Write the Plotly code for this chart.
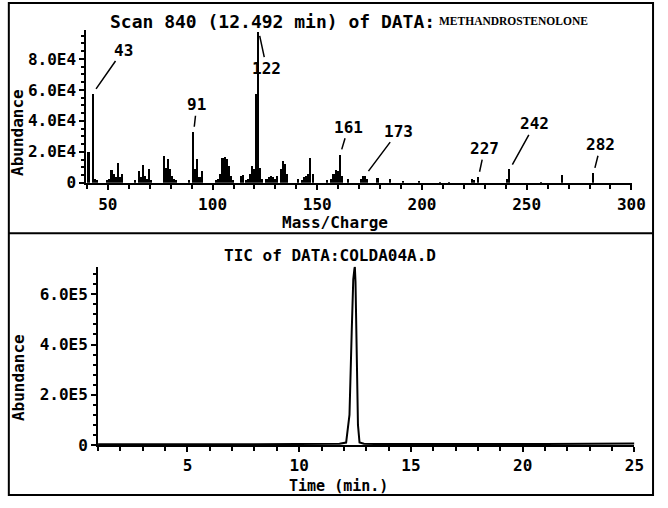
import plotly.graph_objects as go

W, H = 668, 508

# ---------------- data: mass spectrum, scan 840 ----------------
mass = [41, 43, 44, 45, 50, 51, 52, 53, 54, 55, 56, 57,
        63, 65, 66, 67, 68, 69, 70, 71,
        77, 78, 79, 80, 81, 82, 83,
        89, 91, 92, 93, 94, 95,
        102, 103, 104, 105, 106, 107, 108, 109, 110,
        114, 115, 116, 117, 118, 119, 120, 121, 122, 123, 124,
        126, 127, 128, 129, 130, 131, 133, 134, 135, 136,
        141, 143, 144, 145, 146, 147, 148,
        155, 157, 158, 159, 160, 161, 162, 165,
        171, 172, 173, 174, 179, 185, 191,
        199, 209, 213, 224, 225, 227, 241, 242, 257, 267, 282]
abundance = [2.0e4, 5.8e4, 3.0e3, 2.0e3, 2.0e3, 2.5e3, 8.5e3, 6.0e3, 4.0e3, 1.3e4, 4.0e3, 6.0e3,
             2.0e3, 8.0e3, 4.0e3, 1.2e4, 5.0e3, 3.0e3, 9.0e3, 2.0e3,
             1.75e4, 1.0e4, 1.6e4, 9.0e3, 5.0e3, 3.0e3, 2.0e3,
             2.0e3, 3.3e4, 9.0e3, 1.55e4, 4.0e3, 8.0e3,
             2.0e3, 3.0e3, 6.0e3, 1.65e4, 1.7e4, 1.6e4, 1.1e4, 5.0e3, 2.0e3,
             5.0e3, 5.5e3, 2.0e3, 3.0e3, 6.0e3, 1.15e4, 9.0e3, 5.8e4, 9.8e4, 1.0e4, 3.0e3,
             3.0e3, 4.0e3, 4.5e3, 4.0e3, 3.0e3, 4.5e3, 9.0e3, 1.45e4, 1.25e4, 6.0e3,
             3.0e3, 2.0e3, 4.0e3, 5.0e3, 6.0e3, 1.65e4, 6.0e3,
             2.0e3, 3.0e3, 6.0e3, 8.5e3, 8.0e3, 1.85e4, 5.0e3, 3.0e3,
             3.0e3, 4.5e3, 5.0e3, 3.0e3, 3.5e3, 2.5e3, 1.5e3,
             1.5e3, 1.0e3, 1.0e3, 3.0e3, 2.0e3, 4.0e3, 3.0e3, 9.0e3, 1.0e3, 5.5e3, 6.5e3]
labelled_masses = [43, 91, 122, 161, 173, 227, 242, 282]

mz_ticks = [50, 100, 150, 200, 250, 300]
ab_ticks = [0, 2.0e4, 4.0e4, 6.0e4, 8.0e4]
ab_ticktext = ["0", "2.0E4", "4.0E4", "6.0E4", "8.0E4"]

# ---------------- data: total ion chromatogram ----------------
tic_time = [1.0, 2.0, 3.0, 4.0, 5.0, 6.0, 7.0, 8.0, 9.0, 10.0, 11.0, 11.8,
            12.1, 12.25, 12.35, 12.42, 12.47, 12.49, 12.52, 12.57, 12.63, 12.7,
            12.9, 13.5, 15.0, 17.0, 19.0, 21.0, 23.0, 25.0]
tic_abund = [3e3, 2.5e3, 2.5e3, 2.5e3, 2.5e3, 3e3, 3e3, 3e3, 3.5e3, 4e3, 4e3, 5e3,
             1.0e4, 1.2e5, 4.5e5, 6.6e5, 7.0e5, 7.1e5, 6.5e5, 3.5e5, 8e4, 1.0e4,
             5e3, 4e3, 3.5e3, 4e3, 4e3, 4.5e3, 5e3, 6e3]
time_ticks = [5, 10, 15, 20, 25]
tic_ticks = [0, 2.0e5, 4.0e5, 6.0e5]
tic_ticktext = ["0", "2.0E5", "4.0E5", "6.0E5"]

# ---------------- styling helpers ----------------
FONT = "DejaVu Sans Mono"
FS = 16
def px(x):
    return x / W
def py(y):
    return (H - y) / H

fig = go.Figure()
fig.add_trace(go.Bar(x=mass, y=abundance, width=0.75,
                     marker=dict(color="black", line=dict(width=0)),
                     xaxis="x", yaxis="y", showlegend=False))
fig.add_trace(go.Scatter(x=tic_time, y=tic_abund, mode="lines",
                         line=dict(color="black", width=2),
                         xaxis="x2", yaxis="y2", showlegend=False))

axis_common = dict(showgrid=False, zeroline=False, showline=True, linecolor="black",
                   linewidth=2, ticks="outside", tickcolor="black", tickwidth=1.5,
                   tickfont=dict(family=FONT, size=FS, color="black", weight="bold"))

fig.update_layout(
    width=W, height=H, margin=dict(l=0, r=0, t=0, b=0),
    paper_bgcolor="white", plot_bgcolor="white", bargap=0,
    xaxis=dict(domain=[px(88), px(645)], range=[39.7, 300.5], anchor="y",
               tickvals=mz_ticks, ticklen=5, ticklabelstandoff=1,
               minor=dict(dtick=10, tick0=0, ticks="outside", ticklen=4,
                          tickwidth=1.5, tickcolor="black"),
               **axis_common),
    yaxis=dict(domain=[py(186.5), py(30.1)], range=[0, 9.9e4], anchor="x",
               tickvals=ab_ticks, ticktext=ab_ticktext, ticklen=5,
               minor=dict(dtick=5000, tick0=0, ticks="outside", ticklen=3,
                          tickwidth=1.5, tickcolor="black"),
               **axis_common),
    xaxis2=dict(domain=[px(100), px(647)], range=[1, 25], anchor="y2",
                tickvals=time_ticks, ticklen=5, ticklabelstandoff=0,
                minor=dict(dtick=1, tick0=0, ticks="outside", ticklen=4,
                           tickwidth=1.5, tickcolor="black"),
                **axis_common),
    yaxis2=dict(domain=[py(454), py(272)], range=[0, 7.1e5], anchor="x2",
                tickvals=tic_ticks, ticktext=tic_ticktext, ticklen=5,
                minor=dict(dtick=4e4, tick0=0, ticks="outside", ticklen=3,
                           tickwidth=1.5, tickcolor="black"),
                **axis_common),
)

txt = dict(family=FONT, size=FS, color="black", weight="bold")
ann = []
# titles
ann.append(dict(text="Scan 840 (12.492 min) of DATA:", x=px(110), y=py(22),
                xanchor="left", yanchor="middle", font=dict(txt, size=18)))
ann.append(dict(text="METHANDROSTENOLONE", x=px(446), y=py(21), xanchor="left",
                yanchor="middle", font=dict(family="Liberation Serif", size=11.5,
                                            color="black", weight="bold")))
ann.append(dict(text="Mass/Charge", x=px(342), y=py(227), xanchor="center",
                yanchor="middle", font=txt))
ann.append(dict(text="TIC of DATA:COLDA04A.D", x=px(337), y=py(261), xanchor="center",
                yanchor="middle", font=txt))
ann.append(dict(text="Time (min.)", x=px(345), y=py(496), xanchor="center",
                yanchor="middle", font=dict(txt, size=15)))
ann.append(dict(text="Abundance", x=px(18), y=py(135), textangle=-90,
                xanchor="center", yanchor="middle", font=txt))
ann.append(dict(text="Abundance", x=px(19), y=py(385), textangle=-90,
                xanchor="center", yanchor="middle", font=txt))
for a in ann:
    a.update(xref="paper", yref="paper", showarrow=False)

# peak labels with leader lines (pixel offsets of label from peak top)
offsets = {43: (30, -43), 91: (3, -27), 122: (8, 37), 161: (8, -27),
           173: (33, -44), 227: (6, -28), 242: (25, -45), 282: (7, -28)}
lookup = dict(zip(mass, abundance))
for m in labelled_masses:
    ax, ay = offsets[m]
    ann.append(dict(text=str(m), x=m, y=lookup[m], xref="x", yref="y",
                    showarrow=True, arrowhead=0, arrowwidth=1.5, arrowcolor="black",
                    ax=ax, ay=ay, standoff=5, font=txt))
fig.update_layout(annotations=ann)

# frame and divider
fig.add_shape(type="rect", xref="paper", yref="paper", x0=px(9), x1=px(666),
              y0=py(505), y1=py(3), line=dict(color="black", width=2))
fig.add_shape(type="line", xref="paper", yref="paper", x0=px(9), x1=px(666),
              y0=py(238), y1=py(238), line=dict(color="black", width=2))

fig.write_html("out.html")
